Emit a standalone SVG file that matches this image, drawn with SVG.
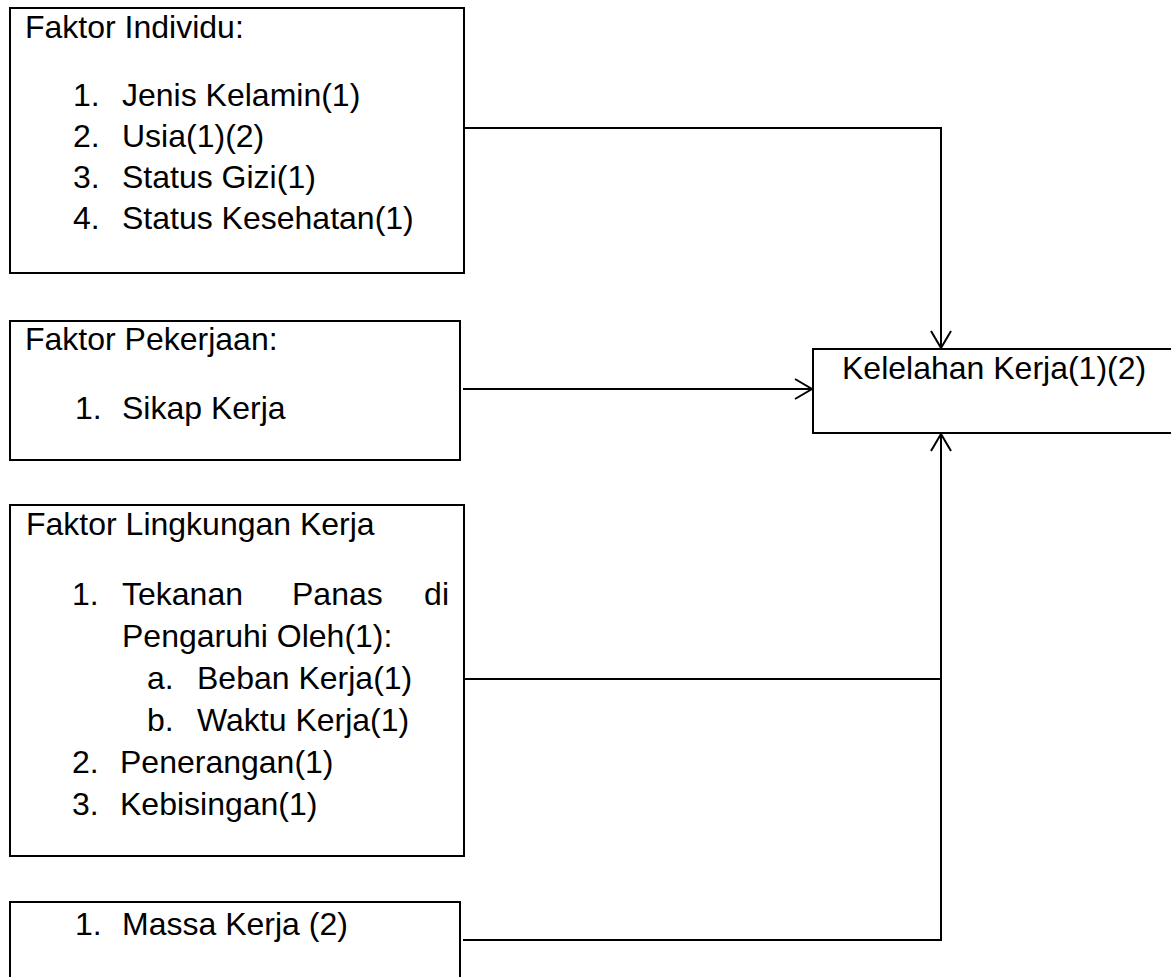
<svg xmlns="http://www.w3.org/2000/svg" width="1171" height="977" viewBox="0 0 1171 977">
<defs>
<style>
.box{fill:#fff;stroke:#000;stroke-width:2}
.t{font-family:"Liberation Sans",Arial,sans-serif;font-size:32px;fill:#000}
.c{fill:none;stroke:#000;stroke-width:2}
</style>
<marker id="arr" markerUnits="userSpaceOnUse" markerWidth="24" markerHeight="24" viewBox="-20 -12 22 24" refX="0" refY="0" orient="auto">
<path d="M-17,-10 L0,0 L-17,10" fill="none" stroke="#000" stroke-width="2"/>
</marker>
</defs>
<rect width="1171" height="977" fill="#fff"/>
<g id="connectors">
<path class="c" d="M464,128 H941 V348" marker-end="url(#arr)"/>
<path class="c" d="M463,389 H812" marker-end="url(#arr)"/>
<path class="c" d="M464,679 H941"/>
<path class="c" d="M463,940 H941 V434" marker-end="url(#arr)"/>
</g>
<g id="individu">
<rect class="box" x="10" y="8" width="454" height="265"/>
<text class="t" x="25" y="38">Faktor Individu:</text>
<text class="t" x="73" y="106">1.</text><text class="t" x="122" y="106">Jenis Kelamin(1)</text>
<text class="t" x="73" y="147">2.</text><text class="t" x="122" y="147">Usia(1)(2)</text>
<text class="t" x="73" y="188">3.</text><text class="t" x="122" y="188">Status Gizi(1)</text>
<text class="t" x="73" y="229">4.</text><text class="t" x="122" y="229">Status Kesehatan(1)</text>
</g>
<g id="pekerjaan">
<rect class="box" x="10" y="321" width="450" height="139"/>
<text class="t" x="25" y="350">Faktor Pekerjaan:</text>
<text class="t" x="75" y="419">1.</text><text class="t" x="122" y="419">Sikap Kerja</text>
</g>
<g id="lingkungan">
<rect class="box" x="10" y="505" width="454" height="351"/>
<text class="t" x="26" y="535">Faktor Lingkungan Kerja</text>
<text class="t" x="72" y="605">1.</text>
<text class="t" x="122" y="605">Tekanan</text>
<text class="t" x="292" y="605">Panas</text>
<text class="t" x="449" y="605" text-anchor="end">di</text>
<text class="t" x="122" y="647">Pengaruhi Oleh(1):</text>
<text class="t" x="147" y="689">a.</text><text class="t" x="197" y="689">Beban Kerja(1)</text>
<text class="t" x="147" y="731">b.</text><text class="t" x="197" y="731">Waktu Kerja(1)</text>
<text class="t" x="72" y="773">2.</text><text class="t" x="120" y="773">Penerangan(1)</text>
<text class="t" x="72" y="815">3.</text><text class="t" x="120" y="815">Kebisingan(1)</text>
</g>
<g id="massa">
<rect class="box" x="10" y="902" width="450" height="90"/>
<text class="t" x="75" y="935">1.</text><text class="t" x="122" y="935">Massa Kerja (2)</text>
</g>
<g id="kelelahan">
<rect class="box" x="813" y="349" width="400" height="84"/>
<text class="t" x="842" y="379">Kelelahan Kerja(1)(2)</text>
</g>
</svg>
